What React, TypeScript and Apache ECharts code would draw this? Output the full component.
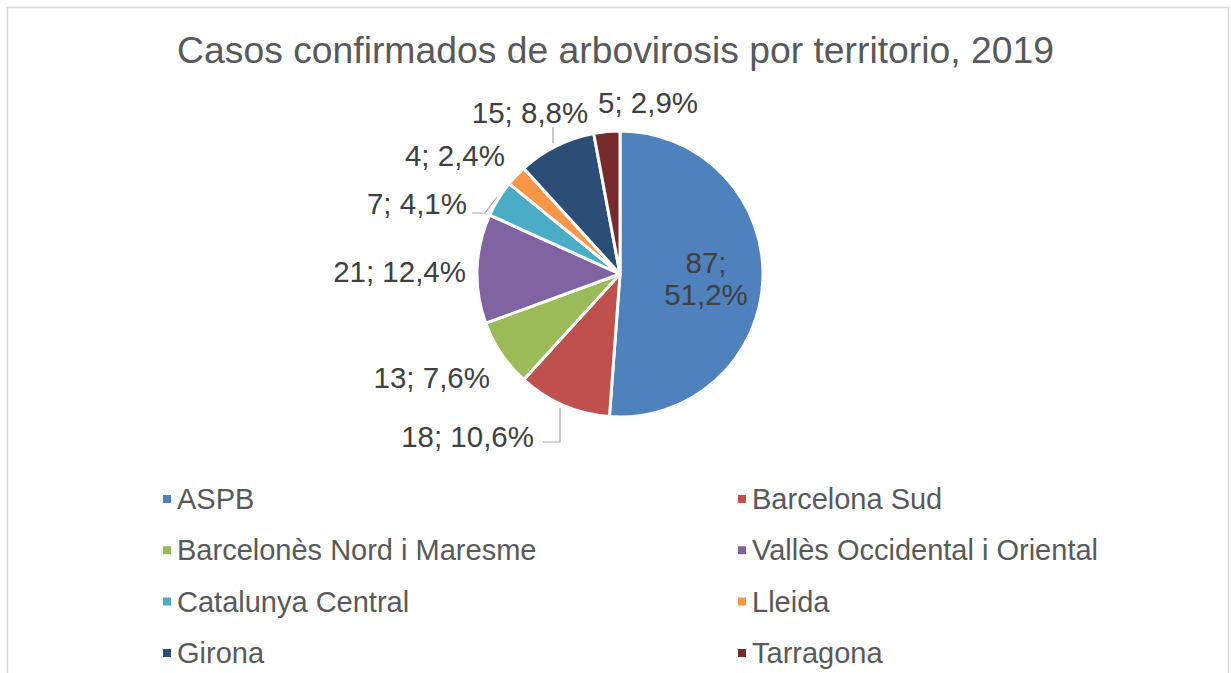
import React, { useEffect, useRef } from "react";
import * as echarts from "echarts";

const categories = [
  "ASPB",
  "Barcelona Sud",
  "Barcelonès Nord i Maresme",
  "Vallès Occidental i Oriental",
  "Catalunya Central",
  "Lleida",
  "Girona",
  "Tarragona",
];
const values = [87, 18, 13, 21, 7, 4, 15, 5];
const colors = ["#4F81BD", "#C0504D", "#9BBB59", "#8064A2", "#4BACC6", "#F79646", "#2C4D75", "#772C2A"];
const titleText = "Casos confirmados de arbovirosis por territorio, 2019";

// label placement (layout only)
const labelPlace: [number, number, string][] = [
  [706, 278, "center"],
  [534, 436, "right"],
  [490, 377, "right"],
  [466, 271, "right"],
  [467, 203, "right"],
  [505, 155, "right"],
  [530, 112, "center"],
  [648, 102, "center"],
];
const leaderLines: Record<number, number[][]> = {
  1: [[560, 408], [560, 442], [543, 442]],
  4: [[497, 197], [485, 213], [472, 213]],
  6: [[553, 143], [553, 135], [553, 127]],
};

const FONT = "'Liberation Sans', Arial, sans-serif";

export default function App() {
  const ref = useRef<HTMLDivElement>(null);
  useEffect(() => {
    if (!ref.current) return;
    const chart = echarts.init(ref.current, null, { renderer: "svg" });
    const total = values.reduce((a, b) => a + b, 0);
    const data = categories.map((name, i) => ({
      name,
      value: values[i],
      itemStyle: { color: colors[i] },
      labelLine: { show: !!leaderLines[i] },
      label: i === 0 ? { position: "inside" } : undefined,
    }));
    const leftCol = categories.filter((_, i) => i % 2 === 0);
    const rightCol = categories.filter((_, i) => i % 2 === 1);
    const legendCommon = {
      orient: "vertical",
      itemWidth: 10,
      itemHeight: 10,
      itemGap: 19.3,
      icon: "rect",
      top: 478,
      height: 200,
      textStyle: {
        fontFamily: FONT,
        fontSize: 29,
        color: "#595959",
        lineHeight: 32,
      },
      selectedMode: false,
    };
    chart.setOption({
      animation: false,
      color: colors,
      title: {
        text: titleText,
        left: "center",
        top: 26,
        textStyle: { fontFamily: FONT, fontSize: 37.3, fontWeight: "normal", color: "#595959" },
      },
      graphic: [
        {
          type: "rect",
          shape: { x: 7.5, y: 7.5, width: 1221, height: 700 },
          style: { fill: "none", stroke: "#d9d9d9", lineWidth: 1.5 },
          silent: true,
        },
      ],
      legend: [
        { ...legendCommon, left: 156, data: leftCol },
        { ...legendCommon, left: 731, data: rightCol },
      ],
      series: [
        {
          type: "pie",
          center: [620, 274],
          radius: 143,
          startAngle: 90,
          clockwise: true,
          data,
          itemStyle: { borderColor: "#ffffff", borderWidth: 3 },
          emphasis: { disabled: true },
          label: {
            show: true,
            position: "outside",
            fontFamily: FONT,
            fontSize: 29.5,
            color: "#404040",
            lineHeight: 32,
            formatter: (p: any) => {
              const pct = ((p.value / total) * 100).toFixed(1).replace(".", ",") + "%";
              return p.dataIndex === 0 ? `${p.value};\n${pct}` : `${p.value}; ${pct}`;
            },
          },
          labelLine: { lineStyle: { color: "#a6a6a6", width: 1.2 } },
          labelLayout: (params: any) => {
            const i = params.dataIndex;
            const [x, y, align] = labelPlace[i];
            const res: any = { x, y, align, verticalAlign: "middle" };
            if (leaderLines[i]) res.labelLinePoints = leaderLines[i];
            return res;
          },
        },
      ],
    });
    return () => chart.dispose();
  }, []);
  return (
    <div
      ref={ref}
      style={{ position: "absolute", left: 0, top: 0, width: 1231, height: 673, background: "#fff" }}
    />
  );
}
